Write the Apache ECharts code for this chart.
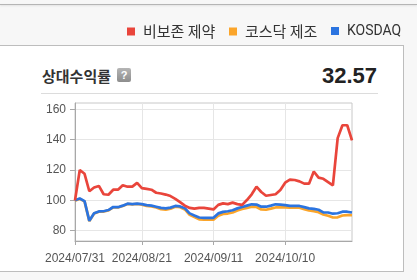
<!DOCTYPE html>
<html><head><meta charset="utf-8">
<script src="https://cdn.jsdelivr.net/npm/echarts@6/dist/echarts.min.js"></script>
<style>
html,body{margin:0;padding:0;width:417px;height:280px;overflow:hidden;background:#f7f7f7;font-family:"Noto Sans CJK KR","Noto Sans",sans-serif;}
#topline{position:absolute;left:0;top:4px;width:417px;height:1px;background:#b5b5b5;box-shadow:0 1px 2px rgba(0,0,0,0.12);}
#panel{position:absolute;left:-2px;top:45px;width:404px;height:225px;background:#fff;border:1px solid #bdbdbd;}
#title{position:absolute;left:42px;top:66px;font-size:15px;font-weight:bold;color:#333;line-height:20px;}
#help{position:absolute;left:117px;top:68px;width:14px;height:14px;border-radius:2px;background:linear-gradient(#b5b5b5,#8d8d8d);color:#fff;font:bold 11px "Liberation Sans",Arial,sans-serif;text-align:center;line-height:14px;}
#value{position:absolute;right:40px;top:63px;font:bold 22px "Liberation Sans",Arial,sans-serif;color:#222;line-height:26px;}
#sep{position:absolute;left:41px;top:93px;width:337px;height:1px;background:#dcdcdc;}
#chart{position:absolute;left:0;top:0;width:417px;height:280px;}
</style></head>
<body>
<div id="topline"></div>
<div id="panel"></div>
<div id="title">상대수익률</div>
<div id="help">?</div>
<div id="value">32.57</div>
<div id="sep"></div>
<div id="chart"></div>
<script>
const dates = ["2024/07/31","2024/08/01","2024/08/02","2024/08/05","2024/08/06","2024/08/07","2024/08/08","2024/08/09","2024/08/12","2024/08/13","2024/08/14","2024/08/16","2024/08/19","2024/08/20","2024/08/21","2024/08/22","2024/08/23","2024/08/26","2024/08/27","2024/08/28","2024/08/29","2024/08/30","2024/09/02","2024/09/03","2024/09/04","2024/09/05","2024/09/06","2024/09/09","2024/09/10","2024/09/11","2024/09/12","2024/09/13","2024/09/19","2024/09/20","2024/09/23","2024/09/24","2024/09/25","2024/09/26","2024/09/27","2024/09/30","2024/10/02","2024/10/04","2024/10/07","2024/10/08","2024/10/10","2024/10/11","2024/10/14","2024/10/15","2024/10/16","2024/10/17","2024/10/18","2024/10/21","2024/10/22","2024/10/23","2024/10/24","2024/10/25","2024/10/28","2024/10/29","2024/10/30"];
const xTickLabels = ["2024/07/31","2024/08/21","2024/09/11","2024/10/10"];
const yTicks = [80,100,120,140,160];
const seriesNames = ["비보존 제약","코스닥 제조","KOSDAQ"];
const vivozon = [100,120,117.5,106,108.5,109.5,104,103.7,107,107,110,109,109,111.5,108,107.5,107,105,104.5,103.8,102.8,101,98.8,96.5,95,94.5,95,95,94.5,94,97,98,97.5,98.5,97.5,97,100.2,104,109,105.5,103,103.5,104,106.8,111.6,113.6,113.4,112.5,111,111,119,115,114.2,112,109.8,141,149.5,149.5,139.5];
const kosdaqMfg = [99.8,101,99.3,86.3,91.3,92.5,92.6,93.4,95.4,95.3,96.3,97.6,97.3,97.6,97.2,96.3,96,95.3,94.2,93.8,94.5,95.8,95.5,94,90.5,89,87.5,87.3,87.3,87.3,89.8,91,91.3,92,93.3,94.3,95,95.8,95.6,94,93.8,94.5,95.3,95.3,95.3,95.2,95.2,95.2,94.2,93.3,92.8,92.2,90.7,89.8,88.7,88.8,90,90.3,90.3];
const kosdaq = [100,101.2,99.5,86.5,91.5,92.7,92.8,93.6,95.6,95.5,96.5,97.8,97.5,97.8,97.5,96.8,96.5,95.8,95,94.7,95.2,96.3,96,94.8,91.4,90,88.7,88.5,88.5,88.5,91.4,92.4,92.8,93.5,94.7,95.6,96.5,97.4,97.2,95.8,95.8,96.5,97.4,97.2,96.8,96.3,96.3,96.3,95.5,94.7,94.4,93.8,92.1,92,91.2,91.5,92.5,92.5,92];
const colors = {red:"#e9453b", orange:"#fba52a", blue:"#2b74e0"};

const labelFn = (i, v) => xTickLabels.includes(v);

const legendLeft = [127, 229, 331];
const legendFonts = [
  {fontSize:15, fontFamily:'"Noto Sans CJK KR", sans-serif'},
  {fontSize:15, fontFamily:'"Noto Sans CJK KR", sans-serif'},
  {fontSize:14, fontFamily:'Roboto, sans-serif'}
];
const legends = seriesNames.map((n, k) => ({
  data:[n], left:legendLeft[k], top:24, padding:0, icon:'rect', itemWidth:8, itemHeight:8,
  textStyle:Object.assign({color:'#333', padding:[0,0,0,3]}, legendFonts[k])
}));

const chart = echarts.init(document.getElementById('chart'), null, {renderer:'canvas'});
chart.setOption({
  animation:false,
  legend:legends,
  grid:{left:75, top:103, right:65, bottom:39, show:true, borderColor:'#c8c8c8', borderWidth:1, backgroundColor:'transparent'},
  xAxis:{
    type:'category', data:dates, boundaryGap:false,
    axisLine:{lineStyle:{color:'#a8a8a8'}},
    axisTick:{show:true, interval:labelFn, length:4, lineStyle:{color:'#a8a8a8'}},
    axisLabel:{interval:labelFn, hideOverlap:false, color:'#555', fontSize:12, fontFamily:'"Liberation Sans", Arial, sans-serif', margin:12},
    splitLine:{show:true, interval:labelFn, lineStyle:{color:'#e6e6e6'}}
  },
  yAxis:{
    type:'value', min:73.2, max:164.15,
    axisLine:{show:true, lineStyle:{color:'#a8a8a8'}},
    axisTick:{show:true, length:5, customValues:yTicks, lineStyle:{color:'#a8a8a8'}},
    axisLabel:{customValues:yTicks, color:'#555', fontSize:12, fontFamily:'"Liberation Sans", Arial, sans-serif', margin:9},
    splitLine:{show:true, lineStyle:{color:'#e6e6e6'}}
  },
  series:[
    {name:seriesNames[1], type:'line', data:kosdaqMfg, showSymbol:false, symbol:'none', lineStyle:{width:2.7, color:colors.orange}, itemStyle:{color:colors.orange}, z:2},
    {name:seriesNames[2], type:'line', data:kosdaq, showSymbol:false, symbol:'none', lineStyle:{width:2.7, color:colors.blue}, itemStyle:{color:colors.blue}, z:3},
    {name:seriesNames[0], type:'line', data:vivozon, showSymbol:false, symbol:'none', lineStyle:{width:2.7, color:colors.red}, itemStyle:{color:colors.red}, z:4}
  ]
});
</script>
</body></html>
